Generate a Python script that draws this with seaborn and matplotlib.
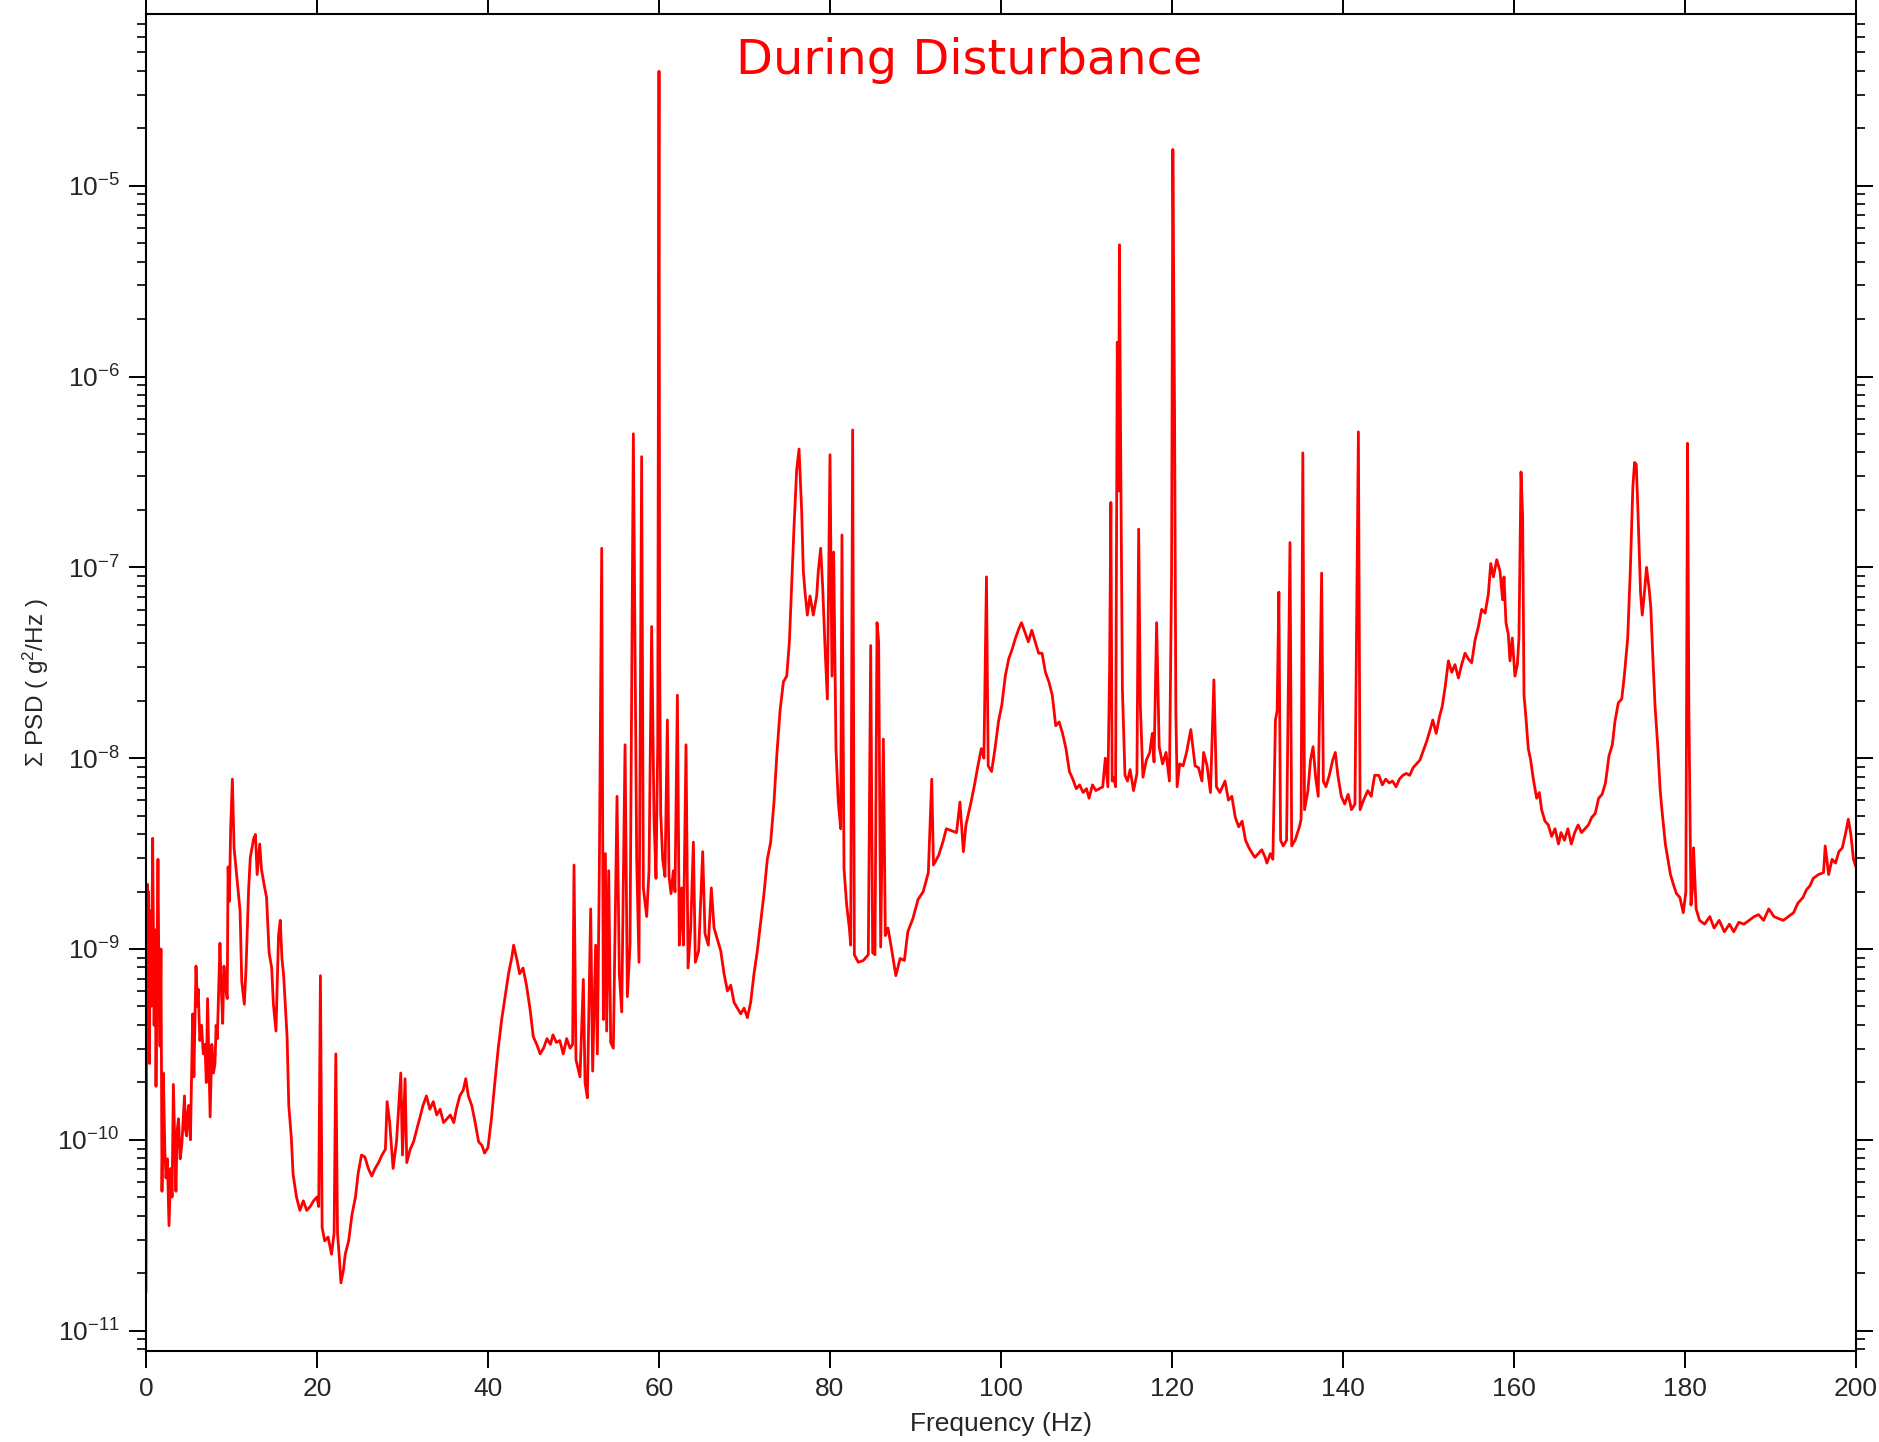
import numpy as np
import matplotlib
matplotlib.use("Agg")
import matplotlib.pyplot as plt
import seaborn as sns
from matplotlib.ticker import LogLocator, LogFormatterSciNotation, MultipleLocator, NullLocator, NullFormatter

# Summed PSD, as log10(g^2/Hz), split by frequency band
freq_a = [0.00, 0.08, 0.15, 0.22, 0.30, 0.40, 0.50, 0.62, 0.78, 0.95,
          1.08, 1.17, 1.28, 1.40, 1.52, 1.64, 1.75, 1.87, 2.03, 2.20,
          2.34, 2.50, 2.69, 2.90, 3.05, 3.20, 3.35, 3.50, 3.65, 3.80,
          4.00, 4.20, 4.35, 4.50, 4.62, 4.76, 4.90, 5.00, 5.20, 5.46,
          5.60, 5.85, 6.00, 6.10, 6.30, 6.50, 6.70, 6.90, 7.05, 7.20,
          7.50, 7.70, 7.90, 8.07, 8.20, 8.34, 8.65, 8.80, 8.97, 9.12,
          9.30, 9.50, 9.60, 9.75, 9.90, 10.10, 10.30, 10.60, 11.00, 11.20,
          11.50, 11.70, 12.00, 12.20, 12.60, 12.80, 13.00, 13.30, 13.50, 13.80,
          14.10, 14.40, 14.70, 14.90, 15.20, 15.50, 15.70, 15.90, 16.10, 16.50,
          16.70, 17.00, 17.20, 17.60, 18.00, 18.40, 18.80, 19.20, 19.60, 20.00]
log_a = [-10.80, -9.20, -8.66, -9.50, -8.70, -9.60, -8.80, -9.30, -8.42, -9.40,
         -8.90, -9.72, -9.10, -8.53, -9.20, -9.51, -9.00, -10.27, -9.65, -10.05,
         -10.20, -10.10, -10.45, -10.15, -10.30, -9.71, -10.00, -10.27, -9.95, -9.89,
         -10.10, -10.02, -9.90, -9.77, -9.95, -9.98, -9.85, -9.82, -10.00, -9.34,
         -9.67, -9.09, -9.30, -9.21, -9.48, -9.40, -9.55, -9.50, -9.70, -9.26,
         -9.88, -9.50, -9.65, -9.60, -9.40, -9.47, -8.97, -9.20, -9.39, -9.09,
         -9.20, -9.26, -8.57, -8.75, -8.37, -8.11, -8.47, -8.61, -8.80, -9.17,
         -9.29, -9.10, -8.69, -8.52, -8.42, -8.40, -8.61, -8.45, -8.58, -8.66,
         -8.73, -9.02, -9.10, -9.29, -9.43, -8.93, -8.85, -9.05, -9.14, -9.46,
         -9.82, -9.99, -10.18, -10.30, -10.37, -10.32, -10.37, -10.35, -10.32, -10.30]

freq_b = [20.20, 20.40, 20.60, 20.90, 21.30, 21.70, 22.00, 22.20, 22.40, 22.60,
          22.80, 23.10, 23.30, 23.70, 24.10, 24.50, 24.80, 25.20, 25.60, 26.00,
          26.40, 26.80, 27.20, 27.60, 28.00, 28.20, 28.50, 28.90, 29.30, 29.80,
          30.00, 30.30, 30.50, 30.90, 31.30, 31.70, 32.00, 32.40, 32.80, 33.20,
          33.60, 34.00, 34.40, 34.80, 35.20, 35.60, 36.00, 36.30, 36.70, 37.10,
          37.40, 37.70, 38.10, 38.50, 38.90, 39.30, 39.60, 40.00]
log_b = [-10.35, -9.14, -10.46, -10.53, -10.51, -10.60, -10.49, -9.55, -10.49, -10.61,
         -10.75, -10.68, -10.60, -10.53, -10.39, -10.30, -10.18, -10.08, -10.09, -10.15,
         -10.19, -10.15, -10.12, -10.08, -10.05, -9.80, -9.91, -10.15, -10.01, -9.65,
         -10.08, -9.68, -10.12, -10.05, -10.01, -9.94, -9.89, -9.82, -9.77, -9.84,
         -9.80, -9.87, -9.84, -9.91, -9.89, -9.87, -9.91, -9.84, -9.77, -9.74,
         -9.68, -9.77, -9.82, -9.91, -10.01, -10.03, -10.07, -10.04]

freq_c = [40.40, 40.80, 41.20, 41.60, 42.00, 42.40, 42.80, 43.00, 43.40, 43.70,
          44.10, 44.50, 44.90, 45.30, 45.70, 46.10, 46.50, 46.90, 47.30, 47.60,
          48.00, 48.40, 48.80, 49.20, 49.60, 49.90, 50.06, 50.29, 50.76, 51.15,
          51.35, 51.62, 52.01, 52.24, 52.59, 52.79, 53.02, 53.30, 53.49, 53.73,
          53.88, 54.12, 54.35, 54.66, 55.09, 55.36, 55.64, 56.03, 56.30, 56.61,
          57.00, 57.39, 57.66, 57.97, 58.17, 58.56, 58.83, 59.14, 59.42, 59.65,
          59.85, 59.93, 60.00, 60.08, 60.20, 60.43, 60.70, 60.98, 61.17, 61.41,
          61.68, 61.87, 62.15, 62.38, 62.65, 62.85, 63.16, 63.40, 63.71, 64.02,
          64.25, 64.64, 65.11, 65.38, 65.77, 66.12, 66.44, 66.83, 67.22, 67.61,
          68.00, 68.39, 68.78, 69.17, 69.56, 69.95, 70.34, 70.72, 71.11, 71.50,
          71.89, 72.28, 72.67, 73.06, 73.45, 73.77, 74.16, 74.55, 74.94, 75.25,
          75.52, 75.79, 76.10, 76.38]
log_c = [-9.89, -9.70, -9.52, -9.37, -9.25, -9.13, -9.04, -8.98, -9.06, -9.13,
         -9.10, -9.19, -9.31, -9.46, -9.50, -9.55, -9.52, -9.47, -9.50, -9.45,
         -9.49, -9.48, -9.55, -9.47, -9.52, -9.50, -8.56, -9.58, -9.67, -9.16,
         -9.70, -9.78, -8.79, -9.64, -8.98, -9.55, -8.59, -6.90, -9.37, -8.50,
         -9.43, -8.59, -9.49, -9.52, -8.20, -9.13, -9.33, -7.93, -9.25, -8.98,
         -6.30, -8.53, -9.07, -6.42, -8.68, -8.83, -8.59, -7.31, -8.32, -8.63,
         -7.93, -6.00, -4.40, -7.50, -8.29, -8.53, -8.62, -7.80, -8.62, -8.71,
         -8.59, -8.70, -7.67, -8.98, -8.68, -8.98, -7.93, -9.10, -8.89, -8.44,
         -9.07, -9.01, -8.49, -8.92, -8.98, -8.68, -8.89, -8.95, -9.01, -9.13,
         -9.22, -9.19, -9.28, -9.31, -9.34, -9.31, -9.36, -9.28, -9.13, -9.01,
         -8.86, -8.71, -8.53, -8.44, -8.23, -7.99, -7.75, -7.60, -7.57, -7.39,
         -7.09, -6.79, -6.49, -6.38]

freq_d = [76.69, 76.88, 77.08, 77.35, 77.66, 78.05, 78.44, 78.63, 78.91, 79.14,
          79.41, 79.69, 80.00, 80.23, 80.43, 80.70, 80.97, 81.25, 81.40, 81.64,
          81.95, 82.26, 82.42, 82.65, 82.85, 83.31, 83.90, 84.48, 84.76, 84.99,
          85.26, 85.50, 85.69, 85.93, 86.24, 86.47, 86.78, 87.20, 87.70, 88.20,
          88.70, 89.10, 89.70, 90.30, 90.90, 91.50, 91.90, 92.10, 92.70, 93.20,
          93.60, 94.20, 94.80, 95.20, 95.60, 95.90, 96.50, 96.90, 97.30, 97.70,
          98.00, 98.30, 98.50, 98.90, 99.30, 99.70, 100.10, 100.50, 100.90, 101.30,
          101.70, 102.10, 102.40, 102.80, 103.20, 103.60, 104.00, 104.40, 104.80, 105.20,
          105.60, 106.00, 106.40, 106.80, 107.20, 107.60, 108.00, 108.40, 108.80, 109.20,
          109.60, 110.00, 110.30, 110.70, 111.10, 111.50, 111.90, 112.20, 112.50, 112.70,
          112.85, 113.00, 113.20, 113.40, 113.60, 113.75, 113.85, 114.00, 114.20, 114.50,
          114.80]
log_d = [-6.71, -7.02, -7.13, -7.25, -7.15, -7.25, -7.15, -7.02, -6.90, -7.10,
         -7.41, -7.69, -6.41, -7.57, -6.92, -7.95, -8.23, -8.37, -6.83, -8.58,
         -8.77, -8.89, -8.98, -6.28, -9.03, -9.07, -9.06, -9.03, -7.41, -9.02,
         -9.03, -7.29, -7.39, -8.99, -7.90, -8.93, -8.89, -9.00, -9.14, -9.05,
         -9.06, -8.91, -8.84, -8.74, -8.70, -8.60, -8.11, -8.56, -8.51, -8.44,
         -8.37, -8.38, -8.39, -8.23, -8.49, -8.35, -8.23, -8.14, -8.04, -7.95,
         -8.00, -7.05, -8.04, -8.07, -7.95, -7.81, -7.72, -7.57, -7.48, -7.43,
         -7.37, -7.32, -7.29, -7.34, -7.39, -7.33, -7.39, -7.45, -7.45, -7.55,
         -7.60, -7.67, -7.83, -7.81, -7.87, -7.95, -8.07, -8.11, -8.16, -8.14,
         -8.18, -8.16, -8.21, -8.14, -8.17, -8.16, -8.15, -8.00, -8.15, -7.53,
         -6.66, -8.12, -8.10, -8.15, -5.82, -6.60, -5.31, -6.41, -7.64, -8.09,
         -8.12]

freq_e = [115.10, 115.50, 115.90, 116.10, 116.30, 116.60, 117.00, 117.40, 117.70, 117.90,
          118.20, 118.50, 118.90, 119.30, 119.70, 119.95, 120.10, 120.30, 120.45, 120.60,
          120.90, 121.30, 121.70, 122.20, 122.70, 123.10, 123.50, 123.70, 124.10, 124.50,
          124.90, 125.20, 125.60, 126.20, 126.60, 127.00, 127.40, 127.80, 128.20, 128.60,
          129.00, 129.40, 129.70, 130.10, 130.50, 130.90, 131.10, 131.50, 131.80, 132.10,
          132.30, 132.50, 132.70, 133.00, 133.40, 133.80, 134.00, 134.40, 134.90, 135.10,
          135.30, 135.50, 135.90, 136.20, 136.50, 136.80, 137.10, 137.50, 137.70, 138.00,
          138.40, 138.80, 139.10, 139.40, 139.80, 140.20, 140.60, 141.00, 141.40, 141.80,
          142.00, 142.40, 142.90, 143.30, 143.70, 144.20, 144.60, 145.00, 145.40, 145.80,
          146.20, 146.60, 147.00, 147.40, 147.80, 148.20, 148.60, 149.00, 149.40, 149.80,
          150.20, 150.50, 150.90, 151.30, 151.60, 151.94, 152.33, 152.72, 153.10, 153.50,
          153.88, 154.27, 154.66, 155.05, 155.45, 155.84, 156.22, 156.62, 157.00, 157.28,
          157.59, 157.98]
log_e = [-8.06, -8.17, -8.08, -6.80, -7.73, -8.10, -8.01, -7.97, -7.87, -8.02,
         -7.29, -7.94, -8.03, -7.97, -8.12, -7.03, -4.81, -6.20, -7.75, -8.15,
         -8.03, -8.04, -7.97, -7.85, -8.04, -8.05, -8.12, -7.97, -8.04, -8.18,
         -7.59, -8.15, -8.18, -8.12, -8.22, -8.20, -8.31, -8.36, -8.33, -8.43,
         -8.47, -8.50, -8.52, -8.50, -8.48, -8.52, -8.55, -8.50, -8.53, -7.80,
         -7.75, -7.13, -8.43, -8.46, -8.43, -6.87, -8.46, -8.43, -8.36, -8.32,
         -6.40, -8.27, -8.17, -8.01, -7.94, -8.10, -8.20, -7.03, -8.12, -8.15,
         -8.09, -8.01, -7.97, -8.09, -8.20, -8.24, -8.19, -8.27, -8.24, -6.29,
         -8.27, -8.22, -8.17, -8.20, -8.09, -8.09, -8.14, -8.11, -8.13, -8.12,
         -8.15, -8.11, -8.09, -8.08, -8.09, -8.05, -8.03, -8.01, -7.96, -7.91,
         -7.85, -7.80, -7.87, -7.78, -7.73, -7.63, -7.49, -7.55, -7.51, -7.58,
         -7.51, -7.45, -7.48, -7.50, -7.38, -7.31, -7.22, -7.24, -7.14, -6.98,
         -7.05, -6.96]

freq_f = [158.36, 158.67, 158.83, 159.06, 159.33, 159.53, 159.80, 160.11, 160.39, 160.58,
          160.82, 161.01, 161.17, 161.40, 161.67, 161.95, 162.26, 162.65, 162.96, 163.23,
          163.62, 164.01, 164.40, 164.80, 165.20, 165.50, 165.90, 166.30, 166.70, 167.10,
          167.50, 167.90, 168.30, 168.70, 169.10, 169.50, 169.90, 170.30, 170.70, 171.10,
          171.50, 171.80, 172.20, 172.60, 172.90, 173.30, 173.60, 173.90, 174.10, 174.30,
          174.50, 174.80, 175.00, 175.30, 175.50, 175.80, 176.00, 176.20, 176.50, 176.80,
          177.10, 177.30, 177.70, 178.00, 178.30, 178.70, 179.00, 179.40, 179.80, 180.10,
          180.30, 180.45, 180.70, 180.90, 181.00, 181.30, 181.70, 182.30, 182.90, 183.40,
          184.00, 184.60, 185.20, 185.70, 186.30, 186.90, 187.50, 188.10, 188.60, 189.20,
          189.80, 190.40, 190.90, 191.50, 192.10, 192.70, 193.20, 193.80, 194.20, 194.60,
          195.00, 195.60, 196.20, 196.40, 196.80, 197.20, 197.60, 198.00, 198.40, 198.80,
          199.10, 199.40, 199.70, 200.00]
log_f = [-7.02, -7.17, -7.05, -7.29, -7.35, -7.49, -7.37, -7.57, -7.51, -7.37,
         -6.50, -6.73, -7.67, -7.79, -7.95, -8.01, -8.11, -8.21, -8.18, -8.27,
         -8.33, -8.35, -8.41, -8.37, -8.45, -8.39, -8.43, -8.37, -8.45, -8.39,
         -8.35, -8.39, -8.37, -8.35, -8.31, -8.29, -8.21, -8.19, -8.13, -7.99,
         -7.93, -7.81, -7.71, -7.69, -7.57, -7.37, -7.02, -6.58, -6.45, -6.46,
         -6.71, -7.13, -7.25, -7.11, -7.00, -7.11, -7.21, -7.43, -7.73, -7.93,
         -8.17, -8.27, -8.45, -8.53, -8.61, -8.67, -8.71, -8.73, -8.81, -8.70,
         -6.35, -7.73, -8.77, -8.67, -8.47, -8.79, -8.85, -8.87, -8.83, -8.89,
         -8.85, -8.91, -8.87, -8.91, -8.86, -8.87, -8.85, -8.83, -8.82, -8.85,
         -8.79, -8.83, -8.84, -8.85, -8.83, -8.81, -8.76, -8.73, -8.69, -8.67,
         -8.63, -8.61, -8.60, -8.46, -8.61, -8.53, -8.55, -8.49, -8.47, -8.39,
         -8.32, -8.40, -8.53, -8.57]

freq_hz = freq_a + freq_b + freq_c + freq_d + freq_e + freq_f
log_psd = log_a + log_b + log_c + log_d + log_e + log_f
assert len(freq_hz) == len(log_psd)
psd = 10.0 ** np.array(log_psd)

sns.set_style("ticks")
plt.rcParams['font.family'] = ['Liberation Sans', 'DejaVu Sans']
plt.rcParams['mathtext.default'] = 'regular'

W, H = 1879, 1442
fig = plt.figure(figsize=(W / 100, H / 100), dpi=100)
ax = fig.add_axes([146 / W, 1 - 1351 / H, (1856 - 146) / W, (1351 - 14) / H])

sns.lineplot(x=freq_hz, y=psd, color='#ff0000', linewidth=2.0,
             estimator=None, sort=False, ax=ax)

ax.set_yscale('log')
ax.set_xlim(0, 200)
ax.set_ylim(10 ** -11.107, 10 ** -4.10)

ax.xaxis.set_major_locator(MultipleLocator(20))
ax.xaxis.set_minor_locator(NullLocator())
ax.yaxis.set_major_locator(LogLocator(base=10, numticks=30))
ax.yaxis.set_minor_locator(LogLocator(base=10, subs=np.arange(2, 10), numticks=200))
ax.yaxis.set_major_formatter(LogFormatterSciNotation())
ax.yaxis.set_minor_formatter(NullFormatter())

ax.tick_params(which='both', direction='out', top=True, right=True,
               labeltop=False, labelright=False, color='black')
ax.tick_params(which='major', length=12, width=1.4)
ax.tick_params(which='minor', length=6.5, width=1.2)
ax.tick_params(axis='x', labelsize=19, pad=7)
ax.tick_params(axis='y', labelsize=19, pad=7)

for sp in ax.spines.values():
    sp.set_linewidth(1.5)
    sp.set_color('black')

ax.set_xlabel('Frequency (Hz)', fontsize=19, labelpad=8)
ax.set_ylabel('')
fig.text(36 / W, 1 - 683 / H, 'Σ PSD ( g$^{2}$/Hz )', rotation=90,
         ha='center', va='center', fontsize=17.5)

fig.text(969 / W, 1 - 74 / H, 'During Disturbance', color='#ff0000',
         fontsize=34.5, family='DejaVu Sans', ha='center', va='baseline')

fig.savefig('out.png', dpi=100)
